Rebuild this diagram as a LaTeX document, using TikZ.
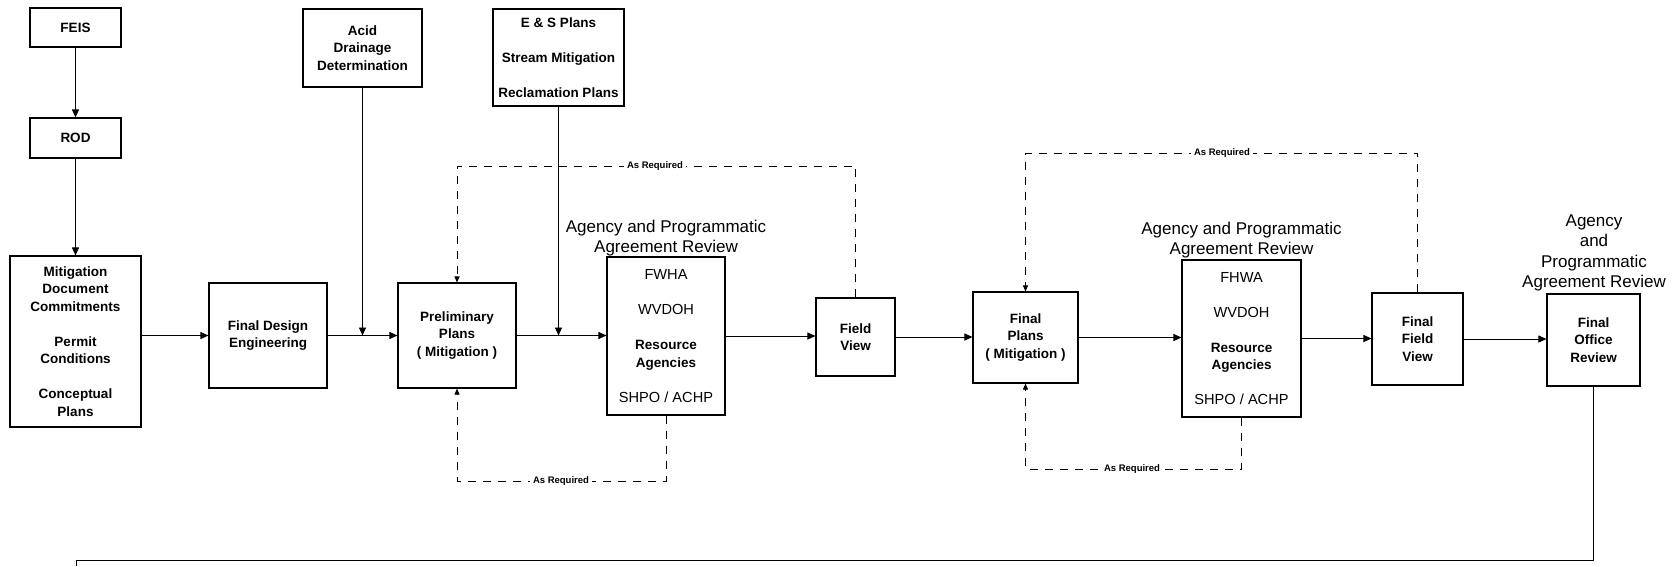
\documentclass[tikz,border=0pt]{standalone}
\usepackage{fontspec}
\setmainfont{Liberation Sans}
\usetikzlibrary{arrows.meta}
\newcommand\bxfont{\fontsize{13.5}{17.5}\selectfont\bfseries}
\newcommand\agfont{\fontsize{14.6}{17.5}\selectfont\mdseries}
\newcommand\ttlfont{\fontsize{17}{20.5}\selectfont}
\newcommand\reqfont{\fontsize{9.5}{11}\selectfont\bfseries}
\begin{document}
\begin{tikzpicture}[x=1pt,y=-1pt,
  box/.style={draw, line width=1.1pt, inner sep=0pt, align=center, font=\bxfont},
  title/.style={inner sep=0pt, align=center, font=\ttlfont},
  req/.style={fill=white, inner xsep=3.5pt, inner ysep=1.5pt, font=\reqfont},
  conn/.style={line width=0.9pt, -{Triangle[length=8pt,width=7pt]}},
  plain/.style={line width=0.9pt},
  loop/.style={line width=0.9pt, dash pattern=on 8pt off 7pt},
  looparrow/.style={loop, -{Triangle[length=6pt,width=5pt]}}]
\useasboundingbox (0,0) rectangle (1677,566);

% process boxes
\node[box, minimum width=91pt, minimum height=39pt] (feis) at (75.5,27.5) {FEIS};
\node[box, minimum width=91pt, minimum height=40pt] (rod) at (75.5,138) {ROD};
\node[box, minimum width=131pt, minimum height=171pt] (mit) at (75.5,341.5)
  {Mitigation\\Document\\Commitments\\[17.5pt]Permit\\Conditions\\[17.5pt]Conceptual\\Plans};
\node[box, minimum width=118pt, minimum height=105pt] (fde) at (268,335.5) {Final Design\\Engineering};
\node[box, minimum width=119pt, minimum height=78pt] (acid) at (362.5,48) {Acid\\Drainage\\Determination};
\node[box, minimum width=118pt, minimum height=105pt] (pre) at (457,335.5) {Preliminary\\Plans\\( Mitigation )};
\node[box, minimum width=131pt, minimum height=97pt] (es) at (558.5,57.5)
  {E \& S Plans\\[17.5pt]Stream Mitigation\\[17.5pt]Reclamation Plans};
\node[box, minimum width=118pt, minimum height=158pt] (ag1) at (666,336)
  {{\agfont FWHA}\\[17.5pt]{\agfont WVDOH}\\[17.5pt]Resource\\Agencies\\[17.5pt]{\agfont SHPO / ACHP}};
\node[box, minimum width=79pt, minimum height=78pt] (fv) at (855.5,337) {Field\\View};
\node[box, minimum width=105pt, minimum height=91pt] (fp) at (1025.5,337.5) {Final\\Plans\\( Mitigation )};
\node[box, minimum width=119pt, minimum height=157pt] (ag2) at (1241.5,338.5)
  {{\agfont FHWA}\\[17.5pt]{\agfont WVDOH}\\[17.5pt]Resource\\Agencies\\[17.5pt]{\agfont SHPO / ACHP}};
\node[box, minimum width=91pt, minimum height=92pt] (ffv) at (1417.5,339) {Final\\Field\\View};
\node[box, minimum width=93pt, minimum height=92pt] (fo) at (1593.5,340) {Final\\Office\\Review};

% review headings
\node[title] (t1) at (666,238) {Agency and Programmatic\\Agreement Review};
\node[title] (t2) at (1241.5,240) {Agency and Programmatic\\Agreement Review};
\node[title] (t3) at (1594,253) {Agency\\and\\Programmatic\\Agreement Review};

% main flow
\draw[conn] (feis) -- (rod);
\draw[conn] (rod) -- (mit);
\draw[conn] (mit.east |- fde.west) -- (fde.west);
\draw[conn] (fde.east) -- (pre.west);
\draw[conn] (acid.south) -- (acid.south |- fde.east);
\draw[conn] (es.south) -- (es.south |- pre.east);
\draw[conn] (pre.east) -- (pre.east -| ag1.west);
\draw[conn] (ag1.east) -- (ag1.east -| fv.west);
\draw[conn] (fv.east) -- (fv.east -| fp.west);
\draw[conn] (fp.east) -- (fp.east -| ag2.west);
\draw[conn] (ag2.east) -- (ag2.east -| ffv.west);
\draw[conn] (ffv.east) -- (ffv.east -| fo.west);

% feedback loops
\draw[looparrow] (fv.north) |- (pre.north |- 0,166) -- (pre.north);
\draw[looparrow] (ag1.south) |- (pre.south |- 0,481) -- (pre.south);
\draw[looparrow] (ffv.north) |- (fp.north |- 0,153) -- (fp.north);
\draw[looparrow] (ag2.south) |- (fp.south |- 0,469) -- (fp.south);
\node[req] (r1) at (655,166) {As Required};
\node[req] (r2) at (561,481) {As Required};
\node[req] (r3) at (1222,153) {As Required};
\node[req] (r4) at (1132,469) {As Required};

% continuation to the next sheet
\coordinate (turn) at (76,560);
\coordinate (cont) at (76,566);
\draw[plain] (fo.south) |- (turn) -- (cont);
\end{tikzpicture}
\end{document}
